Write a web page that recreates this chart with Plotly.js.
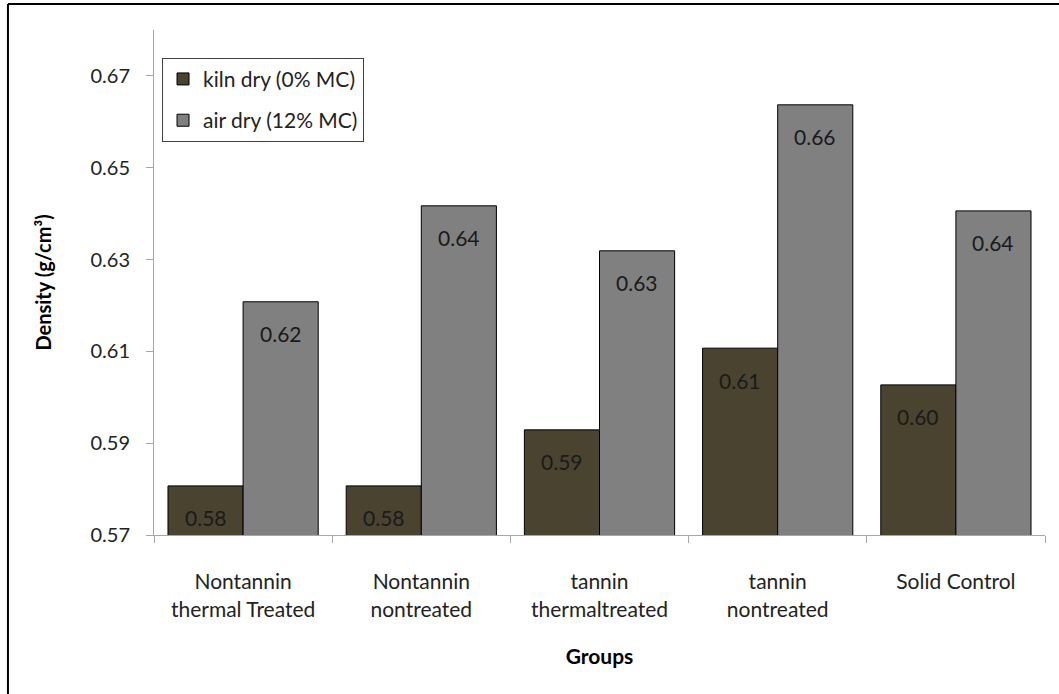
<!DOCTYPE html>
<html>
<head>
<meta charset="utf-8">
<script src="https://cdn.plot.ly/plotly-3.0.1.min.js"></script>
<style>
  html, body { margin: 0; padding: 0; background: #fff; }
  #chart { width: 1059px; height: 694px; }
</style>
</head>
<body>
<div id="chart"></div>
<script>
const categories = [
  "Nontannin<br>thermal Treated",
  "Nontannin<br>nontreated",
  "tannin<br>thermaltreated",
  "tannin<br>nontreated",
  "Solid Control"
];
const kilnDry = [0.5807, 0.5807, 0.5929, 0.6107, 0.6027];
const airDry  = [0.6208, 0.6417, 0.6319, 0.6637, 0.6406];
const seriesNames = ["kiln dry (0% MC)", "air dry (12% MC)"];
const seriesColors = ["#4a4330", "#808080"];

const FONT = "Lato, 'Open Sans', sans-serif";
const bargap = 0.157;
const half = (1 - bargap) / 4;

const traces = [kilnDry, airDry].map((vals, k) => ({
  type: "bar",
  name: seriesNames[k],
  legendgroup: "g" + k,
  x: categories,
  y: vals,
  marker: { color: seriesColors[k], line: { color: "#000", width: 1 } },
  hoverinfo: "y"
}));

const annotations = [];
[kilnDry, airDry].forEach((vals, k) => {
  vals.forEach((v, i) => {
    annotations.push({
      xref: "x", yref: "y",
      x: i + (k === 0 ? -half : half),
      y: v,
      yshift: -32,
      text: v.toFixed(2),
      showarrow: false,
      font: { family: FONT, size: 21, color: "#1a1a1a" }
    });
  });
});

const layout = {
  width: 1059, height: 694,
  margin: { l: 154, r: 14, t: 30, b: 159 },
  paper_bgcolor: "#fff", plot_bgcolor: "#fff",
  barmode: "group", bargap: bargap, bargroupgap: 0,
  font: { family: FONT, size: 20, color: "#222" },
  showlegend: true,
  legend: {
    x: 0.009, y: 0.945, xanchor: "left", yanchor: "top",
    bgcolor: "#fff", bordercolor: "#404040", borderwidth: 1,
    font: { family: FONT, size: 21, color: "#222" },
    tracegroupgap: 11, traceorder: "grouped", itemwidth: 30
  },
  xaxis: {
    type: "category",
    showline: true, linecolor: "#a6a6a6", linewidth: 1,
    ticks: "outside", tickson: "boundaries", ticklen: 7, tickcolor: "#a6a6a6",
    showgrid: false, zeroline: false,
    ticklabelstandoff: 28,
    tickfont: { family: FONT, size: 21, color: "#222" },
    title: { text: "Groups", font: { family: FONT, size: 21, color: "#000", weight: "bold" }, standoff: 29 },
    automargin: false
  },
  yaxis: {
    range: [0.57, 0.68], tick0: 0.57, dtick: 0.02, tickformat: ".2f",
    showline: true, linecolor: "#a6a6a6", linewidth: 1,
    ticks: "outside", ticklen: 7, tickcolor: "#a6a6a6",
    showgrid: false, zeroline: false,
    ticklabelstandoff: 12,
    tickfont: { family: FONT, size: 20, color: "#222" },
    title: { text: "Density (g/cm³)", font: { family: FONT, size: 20, color: "#000", weight: "bold" }, standoff: 33 },
    automargin: false
  },
  annotations: annotations,
  shapes: [
    { type: "line", xref: "paper", yref: "paper", x0: -0.1639, x1: 1.05, y0: 1.0515, y1: 1.0515, line: { color: "#000", width: 2 } },
    { type: "line", xref: "paper", yref: "paper", x0: -0.1639, x1: -0.1639, y0: 1.0515, y1: -0.33, line: { color: "#000", width: 2 } }
  ]
};

Plotly.newPlot("chart", traces, layout, { displayModeBar: false, staticPlot: true });
</script>
</body>
</html>
